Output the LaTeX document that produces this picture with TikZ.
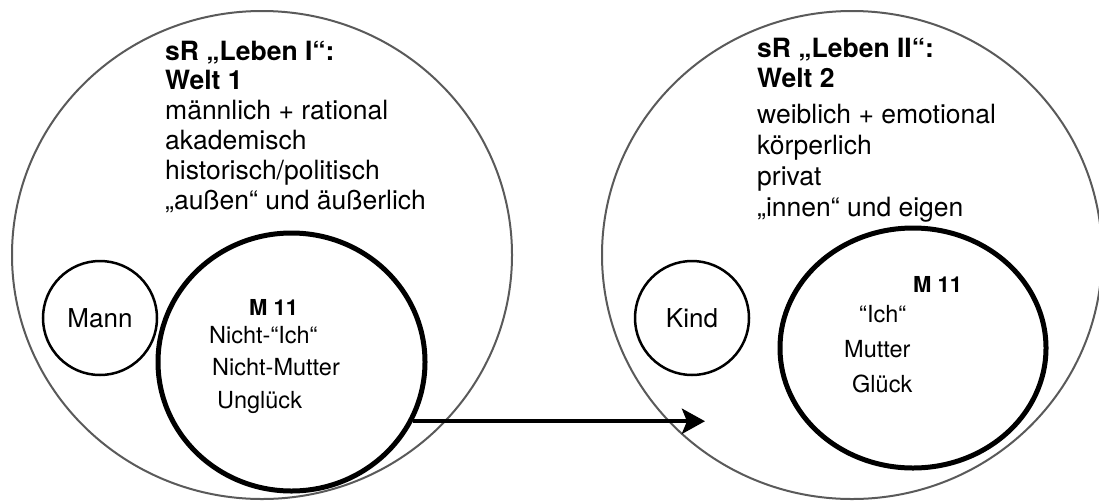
\documentclass[tikz,border=0pt]{standalone}
\usepackage{fontspec}
\setmainfont{TeX Gyre Heros}
\usetikzlibrary{shapes.geometric,arrows.meta}
\definecolor{circgray}{HTML}{5A5A5A}
\tikzset{
  bigc/.style={ellipse, draw=circgray, line width=2pt, minimum width=500pt, minimum height=488pt, inner sep=0pt},
  mcirc/.style={ellipse, draw=black, line width=5pt, inner sep=0pt},
  smallc/.style={circle, draw=black, line width=2.5pt, minimum size=114pt, inner sep=0pt, font=\fontsize{26}{30}\selectfont},
  headtxt/.style={anchor=base west, inner sep=0pt, font=\bfseries\fontsize{26.5}{30}\selectfont},
  bodytxt/.style={anchor=base west, inner sep=0pt, font=\fontsize{26.5}{30}\selectfont},
  innertxt/.style={anchor=base west, inner sep=0pt, font=\fontsize{23.5}{28}\selectfont},
  mlab/.style={anchor=base west, inner sep=0pt, font=\bfseries\fontsize{22}{26}\selectfont},
  flow/.style={line width=4.5pt, -{Stealth[length=23pt,width=25pt,inset=5pt]}}
}
\begin{document}
\begin{tikzpicture}[x=1pt,y=-1pt]
\useasboundingbox (0,0) rectangle (1099,501);
% big worlds
\node[bigc] (w1) at (262,255) {};
\node[bigc] (w2) at (852,255) {};
% left world texts
\node[headtxt] (t1a) at (165,60) {sR „Leben I“:};
\node[headtxt] (t1b) at (165,89) {Welt 1};
\node[bodytxt] (t1c) at (165,119) {männlich + rational};
\node[bodytxt] (t1d) at (165,149) {akademisch};
\node[bodytxt] (t1e) at (165,179) {historisch/politisch};
\node[bodytxt] (t1f) at (165,209) {„außen“ und äußerlich};
% right world texts
\node[headtxt] (t2a) at (757,57) {sR „Leben II“:};
\node[headtxt] (t2b) at (757,87) {Welt 2};
\node[bodytxt] (t2c) at (757,123) {weiblich + emotional};
\node[bodytxt] (t2d) at (757,154) {körperlich};
\node[bodytxt] (t2e) at (757,185) {privat};
\node[bodytxt] (t2f) at (757,216) {„innen“ und eigen};
% small circles
\node[smallc] (mann) at (100,318) {Mann};
\node[smallc] (kind) at (692,318) {Kind};
% M11 ellipses
\node[mcirc, minimum width=267pt, minimum height=258pt] (m1) at (291.5,362) {};
\node[mcirc, minimum width=266pt, minimum height=240pt] (m2) at (913,348) {};
% inner texts left
\node[mlab] (l1) at (249,315) {M 11};
\node[innertxt] (l2) at (209,343) {Nicht-“Ich“};
\node[innertxt] (l3) at (212,375) {Nicht-Mutter};
\node[innertxt] (l4) at (217,408) {Unglück};
% inner texts right
\node[mlab] (r1) at (913,292) {M 11};
\node[innertxt] (r2) at (859,322) {“Ich“};
\node[innertxt] (r3) at (844,357) {Mutter};
\node[innertxt] (r4) at (852,392) {Glück};
% arrow
\coordinate (tip) at (705,420);
\draw[flow] (m1.-26) -- (m1.-26 -| tip);
\end{tikzpicture}
\end{document}
